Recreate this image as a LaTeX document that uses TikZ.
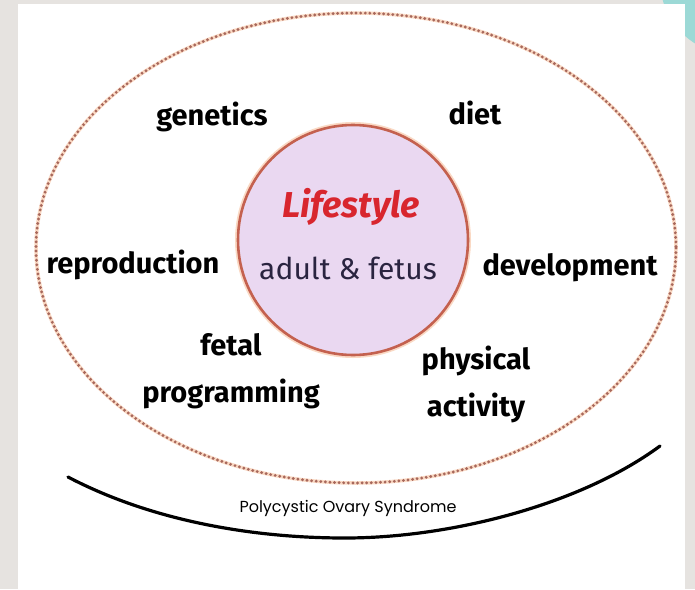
\documentclass[tikz,border=0pt]{standalone}
\usepackage{fontspec}
\setmainfont{Fira Sans}
\newfontfamily\pcosfont{Poppins}
\definecolor{pagegray}{HTML}{E6E3E0}
\definecolor{tealc}{HTML}{9CD9D6}
\definecolor{dotred}{HTML}{A8685C}
\definecolor{halo}{HTML}{FAD9C4}
\definecolor{lav}{HTML}{EAD8F1}
\definecolor{rimred}{HTML}{C4614F}
\definecolor{lifered}{HTML}{D8262E}
\definecolor{navy}{HTML}{2A2440}
\tikzset{
  lbl/.style={font=\bfseries\fontsize{29}{47}\selectfont, text=black, inner sep=0pt, align=center},
}
\begin{document}
\begin{tikzpicture}[x=1pt,y=-1pt]
\useasboundingbox (0,0) rectangle (695,589);
\fill[pagegray] (0,0) rectangle (695,589);
\fill[tealc] (735,-20) circle (75);
\fill[white] (18,4) rectangle (685,589);
% outer dotted ellipse
\draw[halo, line width=3.5pt] (356,248) ellipse (320 and 235);
\draw[dotred, line width=3.2pt, line cap=round, dash pattern=on 0pt off 4.6pt] (356,248) ellipse (320 and 235);
% inner circle
\draw[halo, line width=6pt] (353,240) circle (115);
\node[circle, minimum size=230pt, fill=lav, draw=rimred, line width=2.6pt, inner sep=0pt] (core) at (353,240) {};
\node[font=\bfseries\itshape\fontsize{36}{38}\selectfont, text=lifered, inner sep=0pt] (life) at (351,207) {Lifestyle};
\node[font=\fontsize{30}{32}\selectfont, text=navy, inner sep=0pt] (adult) at (348,268) {adult \& fetus};
% labels
\node[lbl] (gen) at (212,117) {genetics};
\node[lbl] (diet) at (475,113) {diet};
\node[lbl] (repro) at (133,265) {reproduction};
\node[lbl] (dev) at (570,268) {development};
\node[lbl] (fetal) at (231,371) {fetal\\programming};
\node[lbl] (phys) at (476,384) {physical\\activity};
% black arc
\coordinate (al) at (68,477);
\coordinate (am) at (345,538);
\coordinate (ar) at (660,446);
\draw[black, line width=3.2pt, line cap=round] (al) .. controls (150,520) and (250,538) .. (am) .. controls (450,538) and (580,505) .. (ar);
\node[font=\pcosfont\fontsize{16}{18}\selectfont, inner sep=0pt] (pcos) at (348,508) {Polycystic Ovary Syndrome};
\end{tikzpicture}
\end{document}
